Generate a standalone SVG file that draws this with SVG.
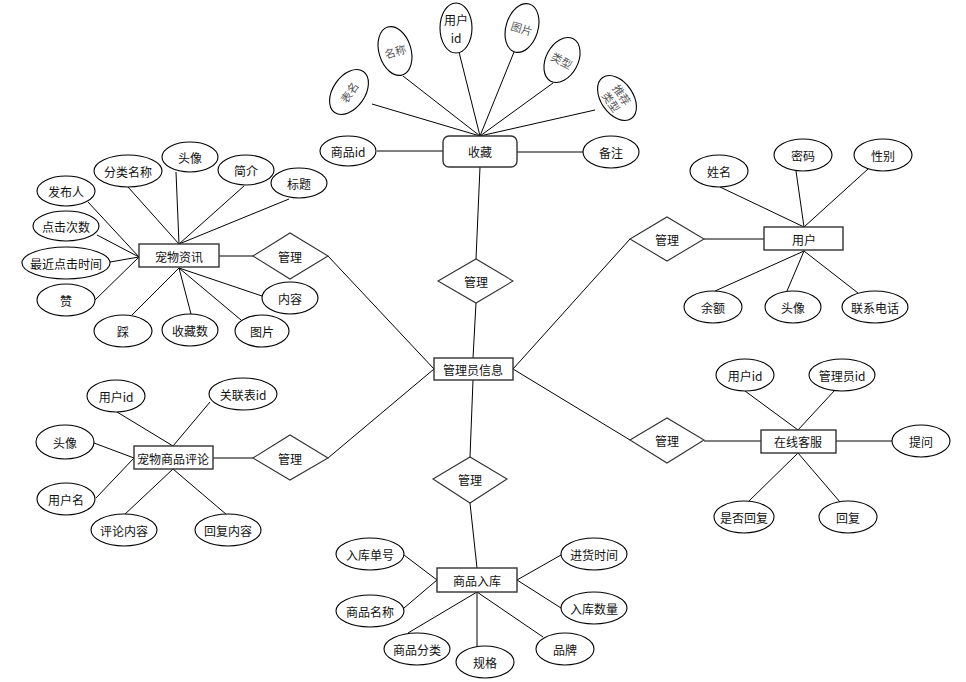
<svg xmlns="http://www.w3.org/2000/svg" width="966" height="682" viewBox="0 0 966 682">
<style>
.c line{stroke:#000;stroke-width:1}
.e{fill:#fff;stroke:#000;stroke-width:1.1}
.r{fill:#fff;stroke:#333;stroke-width:1.4}
.d{fill:#fff;stroke:#333;stroke-width:1.1}
text{font-family:"Noto Sans CJK SC","Liberation Sans",sans-serif;font-size:12px;fill:#111;text-anchor:middle;dominant-baseline:central}
.g{fill:#555;font-size:11px}
</style>
<rect width="966" height="682" fill="#fff"/>
<g id="connectors" class="c">
<line x1="377" y1="151" x2="443" y2="151"/>
<line x1="517" y1="152" x2="583" y2="152"/>
<line x1="372" y1="104" x2="480" y2="136"/>
<line x1="403" y1="76" x2="480" y2="136"/>
<line x1="459" y1="52" x2="480" y2="136"/>
<line x1="514" y1="52" x2="480" y2="136"/>
<line x1="553" y1="83" x2="480" y2="136"/>
<line x1="595" y1="110" x2="480" y2="136"/>
<line x1="480" y1="167" x2="476" y2="259"/>
<line x1="476" y1="303" x2="473" y2="358"/>
<line x1="88" y1="202" x2="139" y2="257"/>
<line x1="97" y1="235" x2="139" y2="257"/>
<line x1="110" y1="262" x2="139" y2="257"/>
<line x1="93" y1="302" x2="139" y2="257"/>
<line x1="128" y1="187" x2="179" y2="244"/>
<line x1="176" y1="172" x2="179" y2="244"/>
<line x1="244" y1="186" x2="179" y2="244"/>
<line x1="289" y1="199" x2="179" y2="244"/>
<line x1="132" y1="315" x2="179" y2="268"/>
<line x1="191" y1="314" x2="179" y2="268"/>
<line x1="241" y1="320" x2="179" y2="268"/>
<line x1="262" y1="296" x2="179" y2="268"/>
<line x1="219" y1="256" x2="253" y2="256"/>
<line x1="328" y1="256" x2="434" y2="369"/>
<line x1="720" y1="187" x2="804" y2="227"/>
<line x1="796" y1="171" x2="804" y2="227"/>
<line x1="868" y1="169" x2="804" y2="227"/>
<line x1="715" y1="291" x2="804" y2="251"/>
<line x1="787" y1="291" x2="804" y2="251"/>
<line x1="858" y1="293" x2="804" y2="251"/>
<line x1="704" y1="239" x2="764" y2="239"/>
<line x1="630" y1="239" x2="513" y2="369"/>
<line x1="117" y1="412" x2="173" y2="446"/>
<line x1="210" y1="402" x2="173" y2="446"/>
<line x1="94" y1="443" x2="134" y2="458"/>
<line x1="96" y1="498" x2="134" y2="458"/>
<line x1="123" y1="516" x2="173" y2="469"/>
<line x1="227" y1="515" x2="173" y2="469"/>
<line x1="213" y1="458" x2="253" y2="458"/>
<line x1="328" y1="458" x2="434" y2="369"/>
<line x1="745" y1="391" x2="798" y2="430"/>
<line x1="835" y1="390" x2="798" y2="430"/>
<line x1="836" y1="441" x2="892" y2="441"/>
<line x1="748" y1="502" x2="798" y2="453"/>
<line x1="840" y1="502" x2="798" y2="453"/>
<line x1="704" y1="441" x2="761" y2="441"/>
<line x1="630" y1="440" x2="513" y2="369"/>
<line x1="473" y1="380" x2="470" y2="457"/>
<line x1="470" y1="503" x2="477" y2="568"/>
<line x1="404" y1="555" x2="437" y2="580"/>
<line x1="404" y1="608" x2="437" y2="580"/>
<line x1="408" y1="633" x2="477" y2="592"/>
<line x1="477" y1="647" x2="477" y2="592"/>
<line x1="543" y1="637" x2="477" y2="592"/>
<line x1="561" y1="555" x2="517" y2="580"/>
<line x1="561" y1="608" x2="517" y2="580"/>
</g>

<!-- 收藏 -->
<g id="shoucang"><rect class="r" x="443" y="136" width="74" height="31" rx="6"/><text x="480" y="151">收藏</text></g>
<g id="sc-spid"><ellipse class="e" cx="348" cy="151" rx="28" ry="15"/><text x="348" y="151">商品id</text></g>
<g id="sc-beizhu"><ellipse class="e" cx="611" cy="152" rx="28" ry="16"/><text x="611" y="152">备注</text></g>
<g id="sc-biaoming" transform="translate(349,92) rotate(-55)"><ellipse class="e" cx="0" cy="0" rx="25" ry="16"/><text class="g" x="0" y="0">表名</text></g>
<g id="sc-mingcheng" transform="translate(395,51) rotate(-17)"><ellipse class="e" cx="0" cy="0" rx="16" ry="25"/><text class="g" x="0" y="0">名称</text></g>
<g id="sc-yhid"><ellipse class="e" cx="456" cy="28" rx="16" ry="25"/><text x="456" y="19">用户</text><text x="456" y="37">id</text></g>
<g id="sc-tupian" transform="translate(522,28) rotate(17)"><ellipse class="e" cx="0" cy="0" rx="16" ry="25"/><text class="g" x="0" y="0">图片</text></g>
<g id="sc-leixing" transform="translate(562,60) rotate(28)"><ellipse class="e" cx="0" cy="0" rx="16" ry="24"/><text class="g" x="0" y="0">类型</text></g>
<g id="sc-tjlx" transform="translate(617,98) rotate(55)"><ellipse class="e" cx="0" cy="0" rx="25" ry="16"/><text class="g" x="0" y="-6.5">推荐</text><text class="g" x="0" y="6.5">类型</text></g>

<!-- 宠物资讯 -->
<g id="zixun"><rect class="r" x="139" y="244" width="80" height="23"/><text x="179" y="256">宠物资讯</text></g>
<g id="zx-fbr"><ellipse class="e" cx="66" cy="191" rx="29" ry="15"/><text x="66" y="191">发布人</text></g>
<g id="zx-flmc"><ellipse class="e" cx="128" cy="171" rx="34" ry="16"/><text x="128" y="171">分类名称</text></g>
<g id="zx-tx"><ellipse class="e" cx="190" cy="157" rx="28" ry="15"/><text x="190" y="157">头像</text></g>
<g id="zx-jj"><ellipse class="e" cx="246" cy="170" rx="28" ry="15"/><text x="246" y="170">简介</text></g>
<g id="zx-bt"><ellipse class="e" cx="299" cy="183" rx="28" ry="15"/><text x="299" y="183">标题</text></g>
<g id="zx-djcs"><ellipse class="e" cx="66" cy="226" rx="33" ry="15"/><text x="66" y="226">点击次数</text></g>
<g id="zx-zjdj"><ellipse class="e" cx="66" cy="263" rx="44" ry="16"/><text x="66" y="263">最近点击时间</text></g>
<g id="zx-zan"><ellipse class="e" cx="66" cy="300" rx="29" ry="16"/><text x="66" y="300">赞</text></g>
<g id="zx-cai"><ellipse class="e" cx="123" cy="331" rx="29" ry="16"/><text x="123" y="331">踩</text></g>
<g id="zx-scs"><ellipse class="e" cx="190" cy="330" rx="28" ry="16"/><text x="190" y="330">收藏数</text></g>
<g id="zx-tp"><ellipse class="e" cx="262" cy="331" rx="27" ry="16"/><text x="262" y="331">图片</text></g>
<g id="zx-nr"><ellipse class="e" cx="290" cy="298" rx="28" ry="16"/><text x="290" y="298">内容</text></g>
<g id="gl-zixun"><polygon class="d" points="253,256 290,233 328,256 290,279"/><text x="290" y="256">管理</text></g>

<!-- 管理员信息 -->
<g id="admin"><rect class="r" x="434" y="358" width="79" height="22"/><text x="473" y="369">管理员信息</text></g>
<g id="gl-shoucang"><polygon class="d" points="438,281 476,259 513,281 476,303"/><text x="476" y="281">管理</text></g>
<g id="gl-ruku"><polygon class="d" points="433,479 470,457 507,479 470,503"/><text x="470" y="479">管理</text></g>

<!-- 用户 -->
<g id="user"><rect class="r" x="764" y="227" width="79" height="23"/><text x="804" y="239">用户</text></g>
<g id="gl-user"><polygon class="d" points="630,239 667,217 704,239 667,261"/><text x="667" y="239">管理</text></g>
<g id="u-xm"><ellipse class="e" cx="719" cy="171" rx="29" ry="16"/><text x="719" y="171">姓名</text></g>
<g id="u-mm"><ellipse class="e" cx="803" cy="155" rx="29" ry="16"/><text x="803" y="155">密码</text></g>
<g id="u-xb"><ellipse class="e" cx="883" cy="155" rx="29" ry="16"/><text x="883" y="155">性别</text></g>
<g id="u-ye"><ellipse class="e" cx="713" cy="307" rx="29" ry="16"/><text x="713" y="307">余额</text></g>
<g id="u-tx"><ellipse class="e" cx="793" cy="307" rx="28" ry="16"/><text x="793" y="307">头像</text></g>
<g id="u-lxdh"><ellipse class="e" cx="875" cy="307" rx="33" ry="16"/><text x="875" y="307">联系电话</text></g>

<!-- 宠物商品评论 -->
<g id="pinglun"><rect class="r" x="134" y="446" width="79" height="23"/><text x="173" y="458">宠物商品评论</text></g>
<g id="gl-pinglun"><polygon class="d" points="253,458 290,435 328,458 290,480"/><text x="290" y="458">管理</text></g>
<g id="pl-yhid"><ellipse class="e" cx="116" cy="396" rx="29" ry="16"/><text x="116" y="396">用户id</text></g>
<g id="pl-glbid"><ellipse class="e" cx="243" cy="394" rx="34" ry="16"/><text x="243" y="394">关联表id</text></g>
<g id="pl-tx"><ellipse class="e" cx="65" cy="442" rx="29" ry="17"/><text x="65" y="442">头像</text></g>
<g id="pl-yhm"><ellipse class="e" cx="66" cy="499" rx="29" ry="16"/><text x="66" y="499">用户名</text></g>
<g id="pl-plnr"><ellipse class="e" cx="124" cy="530" rx="33" ry="16"/><text x="124" y="530">评论内容</text></g>
<g id="pl-hfnr"><ellipse class="e" cx="228" cy="530" rx="33" ry="16"/><text x="228" y="530">回复内容</text></g>

<!-- 在线客服 -->
<g id="kefu"><rect class="r" x="761" y="430" width="75" height="23"/><text x="798" y="441">在线客服</text></g>
<g id="gl-kefu"><polygon class="d" points="630,440 667,418 704,440 667,463"/><text x="667" y="440">管理</text></g>
<g id="kf-yhid"><ellipse class="e" cx="745" cy="375" rx="29" ry="16"/><text x="745" y="375">用户id</text></g>
<g id="kf-glyid"><ellipse class="e" cx="842" cy="375" rx="33" ry="16"/><text x="842" y="375">管理员id</text></g>
<g id="kf-tw"><ellipse class="e" cx="921" cy="441" rx="29" ry="16"/><text x="921" y="441">提问</text></g>
<g id="kf-sfhf"><ellipse class="e" cx="744" cy="517" rx="30" ry="16"/><text x="744" y="517">是否回复</text></g>
<g id="kf-hf"><ellipse class="e" cx="848" cy="517" rx="29" ry="16"/><text x="848" y="517">回复</text></g>

<!-- 商品入库 -->
<g id="ruku"><rect class="r" x="437" y="568" width="80" height="24"/><text x="477" y="580">商品入库</text></g>
<g id="rk-rkdh"><ellipse class="e" cx="370" cy="554" rx="34" ry="16"/><text x="370" y="554">入库单号</text></g>
<g id="rk-spmc"><ellipse class="e" cx="370" cy="611" rx="34" ry="16"/><text x="370" y="611">商品名称</text></g>
<g id="rk-spfl"><ellipse class="e" cx="417" cy="649" rx="33" ry="16"/><text x="417" y="649">商品分类</text></g>
<g id="rk-gg"><ellipse class="e" cx="485" cy="662" rx="29" ry="16"/><text x="485" y="662">规格</text></g>
<g id="rk-pp"><ellipse class="e" cx="565" cy="649" rx="29" ry="16"/><text x="565" y="649">品牌</text></g>
<g id="rk-jhsj"><ellipse class="e" cx="594" cy="554" rx="33" ry="16"/><text x="594" y="554">进货时间</text></g>
<g id="rk-rksl"><ellipse class="e" cx="594" cy="608" rx="33" ry="16"/><text x="594" y="608">入库数量</text></g>
</svg>
